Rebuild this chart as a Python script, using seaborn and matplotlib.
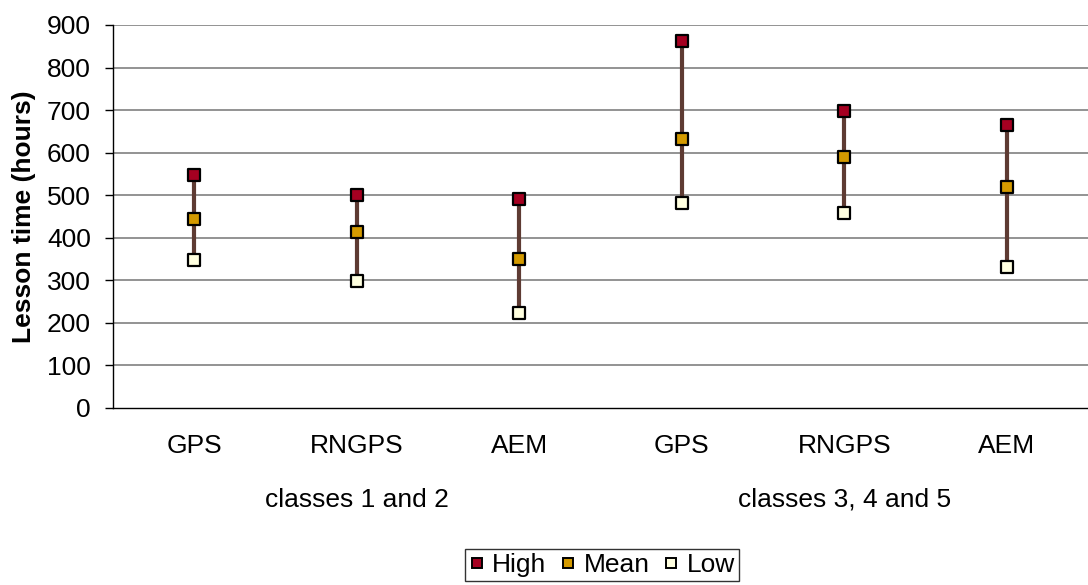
import matplotlib
matplotlib.use("Agg")
import matplotlib.pyplot as plt
import seaborn as sns
import pandas as pd
from matplotlib.lines import Line2D

categories = ["GPS", "RNGPS", "AEM", "GPS", "RNGPS", "AEM"]
groups = ["classes 1 and 2", "classes 3, 4 and 5"]
group_sizes = [3, 3]
high = [548, 500, 492, 862, 698, 665]
mean = [445, 413, 350, 633, 590, 520]
low = [347, 299, 224, 482, 459, 332]
yticks = [0, 100, 200, 300, 400, 500, 600, 700, 800, 900]
series_names = ["High", "Mean", "Low"]
series_colors = {"High": "#A50021", "Mean": "#D49A00", "Low": "#FFFFE0"}
line_color = "#5E3B33"

sns.set_theme(style="white")
plt.rcParams["font.family"] = ["Liberation Sans", "DejaVu Sans"]
plt.rcParams["text.color"] = "black"
plt.rcParams["xtick.color"] = "black"
plt.rcParams["ytick.color"] = "black"
plt.rcParams["axes.labelcolor"] = "black"

FS = 19

pos = list(range(len(categories)))
df = pd.DataFrame({
    "pos": pos * 3,
    "value": high + mean + low,
    "series": [s for s in series_names for _ in pos],
})

fig = plt.figure(figsize=(10.88, 5.85), dpi=100)
ax = fig.add_axes([0.1039, 0.3026, 0.8961, 0.6547])

for y in yticks[1:]:
    ax.axhline(y, color="#808080", lw=1.2, zorder=0)

ax.vlines(pos, low, high, color=line_color, lw=3, zorder=2)

sns.scatterplot(data=df, x="pos", y="value", hue="series", palette=series_colors,
                marker="s", s=75, edgecolor="black", linewidth=1.6,
                legend=False, ax=ax, zorder=3)

ax.set_xlim(-0.5, len(categories) - 0.5)
ax.set_ylim(0, 900)
ax.set_yticks(yticks)
ax.set_yticklabels([str(v) for v in yticks], fontsize=FS)
ax.set_xticks(pos)
ax.set_xticklabels(categories, fontsize=FS)
ax.tick_params(axis="x", length=0, pad=19)
ax.tick_params(axis="y", left=True, length=6, width=1, color="black", direction="out", pad=10)
ax.set_xlabel("")
ax.set_ylabel("Lesson time (hours)", fontsize=FS, fontweight="bold")
ax.yaxis.set_label_coords(-0.079, 0.5)

for side in ["top", "right"]:
    ax.spines[side].set_visible(False)
for side in ["left", "bottom"]:
    ax.spines[side].set_color("black")
    ax.spines[side].set_linewidth(1.0)

start = 0
for g, n in zip(groups, group_sizes):
    center = start + (n - 1) / 2
    ax.text(center, -0.24, g, transform=ax.get_xaxis_transform(), ha="center", va="center", fontsize=FS)
    start += n

handles = [Line2D([], [], marker="s", linestyle="none", markersize=7.5,
                  markerfacecolor=series_colors[s], markeredgecolor="black", markeredgewidth=1.4)
           for s in series_names]
leg = fig.legend(handles, series_names, loc="center", bbox_to_anchor=(0.553, 0.034), ncol=3,
                 fontsize=FS, frameon=True, fancybox=False, handlelength=0.6, handletextpad=0.3,
                 columnspacing=0.5, borderpad=0.15, borderaxespad=0)
leg.get_frame().set_edgecolor("black")
leg.get_frame().set_linewidth(1.0)

fig.savefig("out.png", dpi=100)
